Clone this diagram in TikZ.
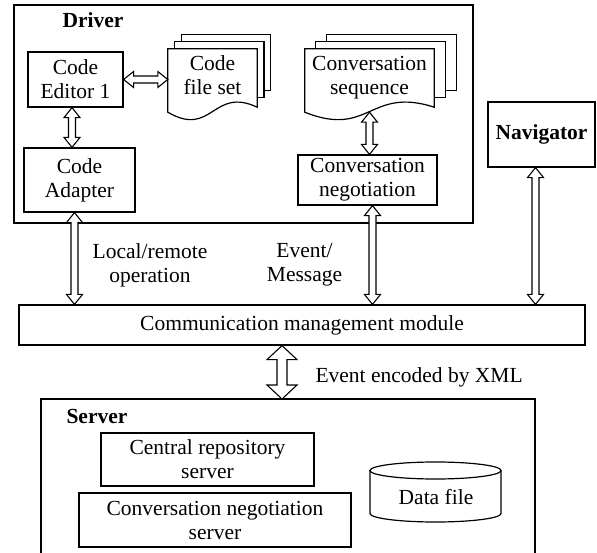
\documentclass[tikz,border=0pt]{standalone}
\usepackage{fontspec}
\setmainfont{Liberation Serif}
\usetikzlibrary{calc,backgrounds}

\def\ahl{10pt}\def\ahw{8pt}\def\asw{3.5pt}
% stack of pages behind a document node
\newcommand\docstack[2]{%
  \begin{pgfonlayer}{background}
  \foreach \k in {2,1}
    \draw[ln, fill=white] ([xshift=\k*#2, yshift=\k*7pt]#1.north west) rectangle ([xshift=\k*#2, yshift=\k*7pt+8pt]#1.south east);
  \draw[ln, fill=white] (#1.north west) -- (#1.south west) .. controls ([yshift=-26pt]#1.south) and ([yshift=26pt]#1.south) .. ([yshift=5pt]#1.south east) -- (#1.north east) -- cycle;
  \end{pgfonlayer}}

\begin{document}
\begin{tikzpicture}[x=1pt, y=-1pt,
  every node/.style={font=\fontsize{21.5}{24}\selectfont},
  ln/.style={line width=1.2pt},
  box/.style={draw, ln, align=center, inner sep=1pt},
  page/.style={align=center, inner sep=0pt, text depth=10pt},
  title/.style={anchor=base west, font=\fontsize{21.5}{24}\selectfont\bfseries},
  fat/.style={draw, fill=white, line width=1.1pt, to path={
    -- ($(\tikztostart)!\ahl!(\tikztotarget)!\ahw!90:(\tikztotarget)$)
    -- ($(\tikztostart)!\ahl!(\tikztotarget)!\asw!90:(\tikztotarget)$)
    -- ($(\tikztotarget)!\ahl!(\tikztostart)!\asw!-90:(\tikztostart)$)
    -- ($(\tikztotarget)!\ahl!(\tikztostart)!\ahw!-90:(\tikztostart)$)
    -- (\tikztotarget)
    -- ($(\tikztotarget)!\ahl!(\tikztostart)!\ahw!90:(\tikztostart)$)
    -- ($(\tikztotarget)!\ahl!(\tikztostart)!\asw!90:(\tikztostart)$)
    -- ($(\tikztostart)!\ahl!(\tikztotarget)!\asw!-90:(\tikztotarget)$)
    -- ($(\tikztostart)!\ahl!(\tikztotarget)!\ahw!-90:(\tikztotarget)$)
    -- cycle}},
  bigfat/.code={\def\ahl{14pt}\def\ahw{15pt}\def\asw{5pt}}]
\useasboundingbox (0,0) rectangle (597,553);

% driver
\node[draw, ln, inner sep=0pt, minimum width=459pt, minimum height=218pt] (driver) at (243.5,114) {};
\node[title] (drivertitle) at (59,28) {Driver};
\node[box, minimum width=95pt, minimum height=55pt] (editor) at (75.5,79.5) {Code\\Editor 1};
\node[box, minimum width=111pt, minimum height=64pt] (adapter) at (79.5,180) {Code\\Adapter};
\node[page, minimum width=89pt, minimum height=63pt] (codeset) at (212.5,80.5) {Code\\file set};
\docstack{codeset}{6.7pt}
\node[page, minimum width=129pt, minimum height=63pt] (convseq) at (369.5,80.5) {Conversation\\sequence};
\docstack{convseq}{11pt}
\node[box, minimum width=139pt, minimum height=50pt] (convneg) at (367.5,180) {Conversation\\negotiation};

\node[box, minimum width=107pt, minimum height=65pt, font=\fontsize{21.5}{24}\selectfont\bfseries] (nav) at (541.5,134.5) {Navigator};
\node[box, minimum width=566pt, minimum height=40pt] (comm) at (302,325) {Communication management module};

% server
\draw[ln] (41,553) -- (41,399) -- (535,399) -- (535,553);
\coordinate (srvtop) at (282,399);
\node[title] (servertitle) at (63,423) {Server};
\node[box, minimum width=213pt, minimum height=53pt] (central) at (207.5,459.5) {Central repository\\server};
\node[box, minimum width=272pt, minimum height=54pt] (convsrv) at (215,520) {Conversation negotiation\\server};
\draw[ln] (370,470.5) -- (370,513.5) arc[start angle=180, end angle=360, x radius=65.5pt, y radius=8.5pt] -- (501,470.5);
\draw[ln] (435.5,470.5) ellipse [x radius=65.5pt, y radius=8.5pt];
\node (datafile) at (436,497) {Data file};

% connectors
\coordinate (adfoot) at ([xshift=-5pt]adapter.south);
\coordinate (negfoot) at ([xshift=5pt]convneg.south);
\coordinate (navfoot) at ([xshift=-6pt]nav.south);
\draw[fat] (editor.east) to (editor.east -| codeset.west);
\draw[fat] ([xshift=-3.5pt]editor.south) to ([xshift=-3.5pt]editor.south |- adapter.north);
\draw[fat] (convseq.south) to (convseq.south |- convneg.north);
\draw[fat] (adfoot) to (adfoot |- comm.north);
\draw[fat] (negfoot) to (negfoot |- comm.north);
\draw[fat] (navfoot) to (navfoot |- comm.north);
\draw[fat, bigfat] (srvtop |- comm.south) to (srvtop);

\node[align=center] (lblop) at (150,265) {Local/remote\\operation};
\node[align=center] (lblmsg) at (304.5,265) {Event/\\Message};
\node[anchor=base west] (lblxml) at (312,382) {Event encoded by XML};
\end{tikzpicture}
\end{document}
